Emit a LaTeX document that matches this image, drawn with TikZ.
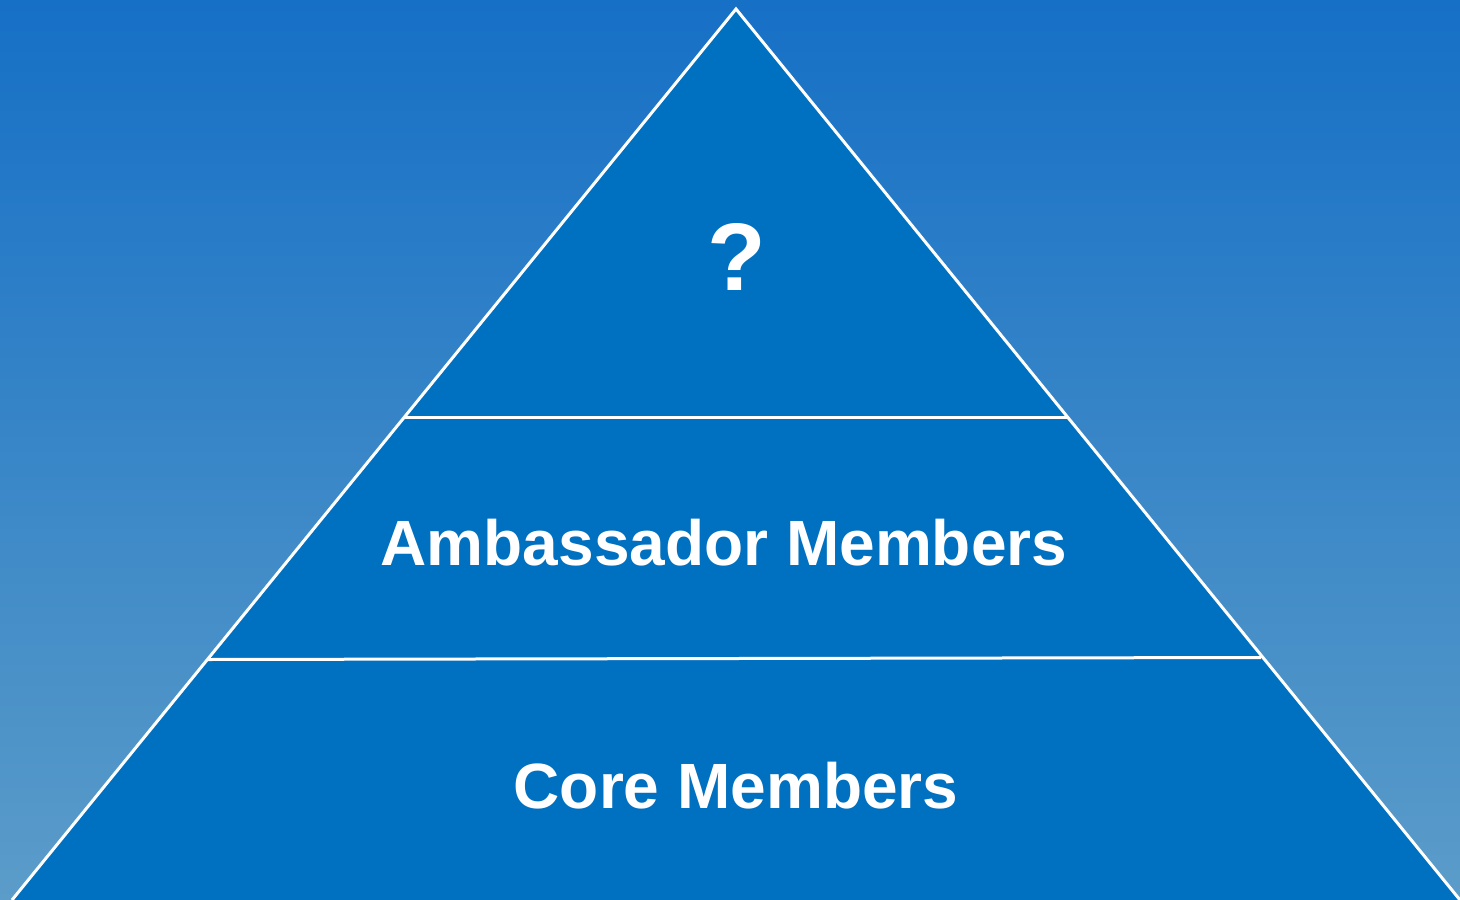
\documentclass[tikz,border=0pt]{standalone}
\usepackage{fontspec}
\setmainfont{Liberation Sans}
\definecolor{bgtop}{HTML}{1670C6}
\definecolor{bgbot}{HTML}{5B9CC9}
\definecolor{tri}{HTML}{0070C0}
\tikzset{
  sep/.style={draw=white, line width=3pt},
  lbl/.style={text=white, font=\bfseries\fontsize{64}{64}\selectfont, anchor=base, inner sep=0pt},
}
\begin{document}
\begin{tikzpicture}[x=1pt,y=-1pt]
\useasboundingbox (0,0) rectangle (1460,900);
\clip (0,0) rectangle (1460,900);
\shade[top color=bgtop, bottom color=bgbot] (0,0) rectangle (1460,900);
\coordinate (apex) at (736,9);
\coordinate (bl) at (12,900);
\coordinate (br) at (1460,900);
\fill[tri] (apex) -- (bl) -- (br) -- cycle;
\coordinate (l1a) at (405,417.5);
\coordinate (l1b) at (1067,417.5);
\coordinate (l2a) at (208,659.5);
\coordinate (l2b) at (1261,657.5);
\draw[sep] (l1a) -- (l1b);
\draw[sep] (l2a) -- (l2b);
\draw[sep, line join=miter] (bl) -- (apex) -- (br);
\node[lbl, font=\bfseries\fontsize{96}{96}\selectfont] (q) at (737,290) {?};
\node[lbl] (amb) at (724,565) {Ambassador Members};
\node[lbl] (core) at (736,808) {Core Members};
\end{tikzpicture}
\end{document}
